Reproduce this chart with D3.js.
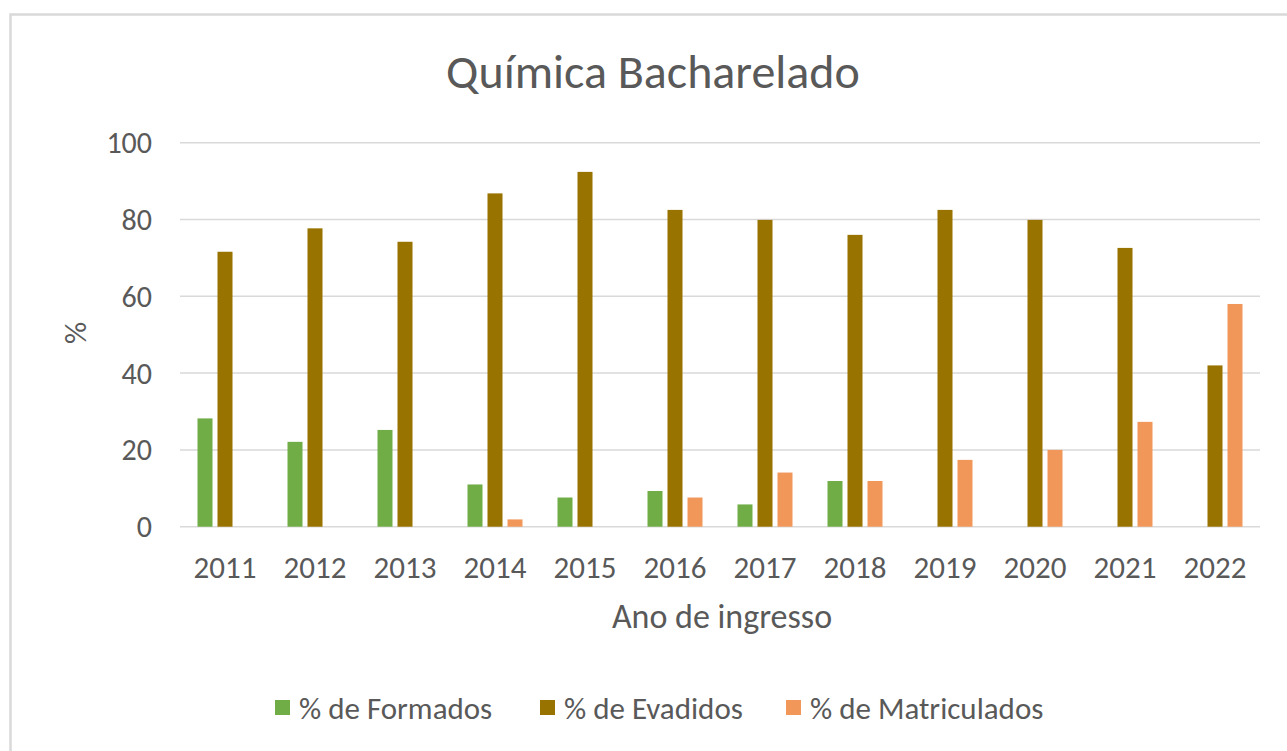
<!DOCTYPE html>
<meta charset="utf-8">
<style>
  body { margin: 0; background: #fff; }
  text { font-family: Calibri, Carlito, "Liberation Sans Narrow", "Open Sans", sans-serif; fill: #595959; }
</style>
<body>
<script src="https://cdn.jsdelivr.net/npm/d3@7/dist/d3.min.js"></script>
<script>

var width = 1287,
    height = 751;

var years = ["2011", "2012", "2013", "2014", "2015", "2016", "2017", "2018", "2019", "2020", "2021", "2022"];
var seriesNames = ["% de Formados", "% de Evadidos", "% de Matriculados"];
var formados    = [28.2, 22.1, 25.2, 11.0, 7.6, 9.3, 5.8, 11.9, 0, 0, 0, 0];
var evadidos    = [71.6, 77.7, 74.2, 86.8, 92.4, 82.5, 79.9, 76.0, 82.5, 79.9, 72.6, 42.0];
var matriculados = [0, 0, 0, 1.9, 0, 7.6, 14.1, 11.9, 17.4, 20.0, 27.3, 58.0];
var yTicks = [0, 20, 40, 60, 80, 100];
var colors = ["#70ad47", "#997300", "#f1975a"];

var values = [formados, evadidos, matriculados];

var svg = d3.select("body").append("svg")
    .attr("width", width)
    .attr("height", height);

// chart border
svg.append("rect")
    .attr("x", 10.5).attr("y", 14.5)
    .attr("width", 1300).attr("height", 760)
    .attr("fill", "none")
    .attr("stroke", "#d9d9d9")
    .attr("stroke-width", 2.5);

var x0 = d3.scaleBand()
    .domain(years)
    .range([180, 1260]);

var x1 = d3.scaleBand()
    .domain(seriesNames)
    .range([-30, 30])
    .paddingInner(0.25)
    .paddingOuter(0.125);

var y = d3.scaleLinear()
    .domain([0, 100])
    .range([526.7, 142.7]);

// gridlines
svg.append("g")
    .selectAll("line")
    .data(yTicks)
    .enter().append("line")
    .attr("x1", 180).attr("x2", 1260)
    .attr("y1", d => y(d)).attr("y2", d => y(d))
    .attr("stroke", "#d9d9d9")
    .attr("stroke-width", 1.5);

// y tick labels
svg.append("g")
    .selectAll("text")
    .data(yTicks)
    .enter().append("text")
    .attr("x", 152)
    .attr("y", d => y(d))
    .attr("dy", "0.35em")
    .attr("text-anchor", "end")
    .style("font-size", "30px")
    .text(d => d);

// x tick labels
svg.append("g")
    .selectAll("text")
    .data(years)
    .enter().append("text")
    .attr("x", d => x0(d) + x0.bandwidth() / 2)
    .attr("y", 578)
    .attr("text-anchor", "middle")
    .style("font-size", "31px")
    .text(d => d);

// bars
var groups = svg.append("g")
    .selectAll("g")
    .data(years)
    .enter().append("g")
    .attr("transform", d => "translate(" + (x0(d) + x0.bandwidth() / 2) + ",0)");

groups.selectAll("rect")
    .data((d, i) => seriesNames.map((s, j) => ({ s: s, j: j, v: values[j][i] })))
    .enter().append("rect")
    .filter(d => d.v > 0)
    .attr("x", d => x1(d.s))
    .attr("width", x1.bandwidth())
    .attr("y", d => y(d.v))
    .attr("height", d => y(0) - y(d.v))
    .attr("fill", d => colors[d.j]);

// title
svg.append("text")
    .attr("x", 653)
    .attr("y", 88)
    .attr("text-anchor", "middle")
    .style("font-size", "48px")
    .text("Química Bacharelado");

// axis titles
svg.append("text")
    .attr("x", 722)
    .attr("y", 628)
    .attr("text-anchor", "middle")
    .style("font-size", "34px")
    .text("Ano de ingresso");

svg.append("text")
    .attr("transform", "translate(86,333) rotate(-90)")
    .attr("text-anchor", "middle")
    .style("font-size", "31px")
    .text("%");

// legend
var legendX = [275, 540, 786];
var legend = svg.append("g")
    .selectAll("g")
    .data(seriesNames)
    .enter().append("g")
    .attr("transform", (d, i) => "translate(" + legendX[i] + ",708)");

legend.append("rect")
    .attr("x", 0).attr("y", -8)
    .attr("width", 15).attr("height", 15)
    .attr("fill", (d, i) => colors[i]);

legend.append("text")
    .attr("x", 24)
    .attr("y", 0)
    .attr("dy", "0.35em")
    .style("font-size", "31px")
    .text(d => d);

</script>
